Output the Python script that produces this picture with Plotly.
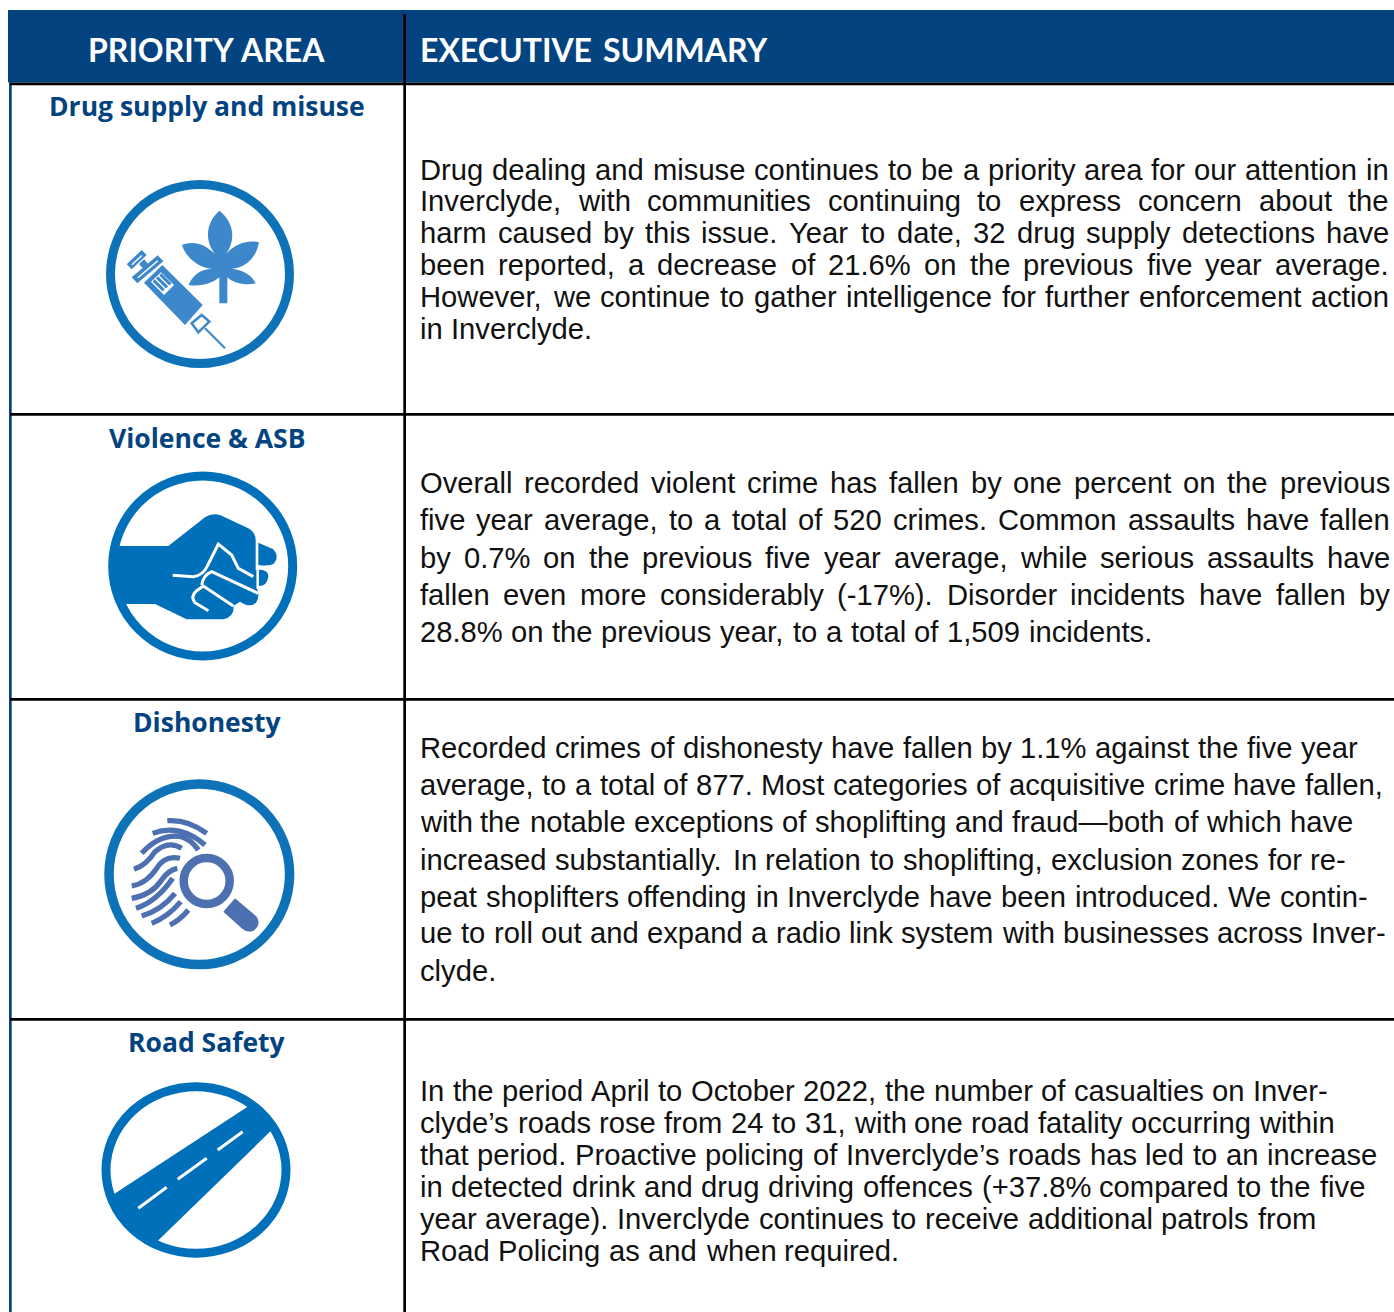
import re
import plotly.graph_objects as go

W, H = 1394, 1312
NAVY = "#03437F"
RING = "#0E72B9"
LEAF = "#3D87CB"
PRINT = "#4C70B0"
BODY_FONT = "Liberation Sans"
HEAD_FONT = "Lato"
AREA_FONT = "Open Sans"

headers = [("PRIORITY", "AREA"), ("EXECUTIVE", "SUMMARY")]
header_spans = [(88, 325), (420, 768)]
areas = ["Drug supply and misuse", "Violence & ASB", "Dishonesty", "Road Safety"]
area_y = [105.5, 437.5, 721.5, 1041.5]
row_rules = [82.5, 413, 698, 1018]

lines_drug = [
    "Drug dealing and misuse continues to be a priority area for our attention in",
    "Inverclyde, with communities continuing to express concern about the",
    "harm caused by this issue. Year to date, 32 drug supply detections have",
    "been reported, a decrease of 21.6% on the previous five year average.",
    "However, we continue to gather intelligence for further enforcement action",
    "in Inverclyde.",
]
ends_drug = [1389, 1389, 1389, 1389, 1389, 592]
y_drug = [170, 201, 233, 265, 297, 329]

lines_violence = [
    "Overall recorded violent crime has fallen by one percent on the previous",
    "five year average, to a total of 520 crimes. Common assaults have fallen",
    "by 0.7% on the previous five year average, while serious assaults have",
    "fallen even more considerably (-17%). Disorder incidents have fallen by",
    "28.8% on the previous year, to a total of 1,509 incidents.",
]
ends_violence = [1390, 1390, 1390, 1390, 1152]
y_violence = [483, 520, 558, 595, 632]

lines_dishonesty = [
    "Recorded crimes of dishonesty have fallen by 1.1% against the five year",
    "average, to a total of 877. Most categories of acquisitive crime have fallen,",
    "with the notable exceptions of shoplifting and fraud\u2014both of which have",
    "increased substantially. In relation to shoplifting, exclusion zones for re-",
    "peat shoplifters offending in Inverclyde have been introduced. We contin-",
    "ue to roll out and expand a radio link system with businesses across Inver-",
    "clyde.",
]
ends_dishonesty = [1358, 1383, 1353, 1346, 1368, 1386, 496]
y_dishonesty = [748, 785, 822, 860, 897, 933, 971]

lines_road = [
    "In the period April to October 2022, the number of casualties on Inver-",
    "clyde\u2019s roads rose from 24 to 31, with one road fatality occurring within",
    "that period. Proactive policing of Inverclyde\u2019s roads has led to an increase",
    "in detected drink and drug driving offences (+37.8% compared to the five",
    "year average). Inverclyde continues to receive additional patrols from",
    "Road Policing as and when required.",
]
ends_road = [1328, 1334, 1377, 1365, 1316, 899]
y_road = [1091, 1123, 1155, 1187, 1219, 1251]

# Liberation Sans / Arial advance widths (1/1000 em)
ADV = {}
for chars, w in [("ilj'", 222), ("ft,./ ", 278), ("r()-", 333), ("cksvxyz", 500),
                 ("abdeghnopqu0123456789+", 556), ("mM", 833), ("w", 722), ("%", 889),
                 ("ABEPSVXY", 667), ("CDHNRU", 722), ("\u2014", 1000), ("\u2019", 222),
                 ("OGQ", 778), ("TF", 611), ("L", 556), ("I", 278), ("W", 944)]:
    for c in chars:
        ADV[c] = w


def width(s, fs):
    return sum(ADV.get(c, 556) for c in s) * fs / 1000


FS = 29.2
LEFT = 420
annotations = []


def note(x, y, text, size, color, font, anchor="left", bold=False):
    annotations.append(dict(
        x=x, y=y, xref="x", yref="y", text=f"<b>{text}</b>" if bold else text,
        showarrow=False, xanchor=anchor, yanchor="middle", borderpad=0, borderwidth=0,
        font=dict(family=font, size=size, color=color)))


def place_paragraph(lines, ends, ys):
    for line, end, y in zip(lines, ends, ys):
        words = line.split(" ")
        total = sum(width(w, FS) for w in words)
        gap = (end - LEFT - total) / max(1, len(words) - 1)
        x = LEFT
        for w in words:
            note(x, y, w, FS, "#111111", BODY_FONT)
            x += width(w, FS) + gap


place_paragraph(lines_drug, ends_drug, y_drug)
place_paragraph(lines_violence, ends_violence, y_violence)
place_paragraph(lines_dishonesty, ends_dishonesty, y_dishonesty)
place_paragraph(lines_road, ends_road, y_road)

for (first, second), (x0, x1) in zip(headers, header_spans):
    note(x0, 49, first, 32, "white", HEAD_FONT, "left", True)
    note(x1, 49, second, 32, "white", HEAD_FONT, "right", True)
for name, y in zip(areas, area_y):
    note(207, y, name, 26.5, NAVY, AREA_FONT, "center", True)

shapes = []


def rect(x0, y0, x1, y1, color):
    shapes.append(dict(type="rect", xref="x", yref="y", x0=x0, y0=y0, x1=x1, y1=y1,
                       fillcolor=color, line=dict(width=0), layer="above"))


def path(d, ox, oy, fill=None, stroke=None, lw=0):
    nums = iter(range(10 ** 6))

    def conv(m):
        v = float(m.group(0))
        return f"{(ox if next(nums) % 2 == 0 else oy) + v / 3:.2f}"

    d2 = re.sub(r"-?\d+\.?\d*", conv, d)
    shapes.append(dict(type="path", xref="x", yref="y", path=d2, layer="above",
                       fillcolor=fill if fill else "rgba(0,0,0,0)",
                       line=dict(color=stroke if stroke else "rgba(0,0,0,0)", width=lw)))


def ring(cx, cy, rx, ry, lw, color):
    shapes.append(dict(type="circle", xref="x", yref="y", x0=cx - rx, x1=cx + rx, y0=cy - ry, y1=cy + ry,
                       fillcolor="rgba(0,0,0,0)", line=dict(color=color, width=lw), layer="above"))


# table frame
rect(8, 10, 1394, 82.5, NAVY)
rect(9, 82.5, 11.7, 1312, NAVY)
rect(403.3, 14, 406, 1312, "#000000")
for y in row_rules:
    rect(10, y, 1394, y + 2.8, "#000000")

# --- icon 1: syringe and leaf
ox, oy = 90, 170
ring(200, 274, 89.5, 89.5, 9, RING)
path("M388 400 L388 322 C370 338 335 352 296 345 C308 315 330 298 365 296 "
     "C330 295 288 265 276 225 C310 212 342 220 375 252 C345 215 345 160 388 122 C430 155 440 205 408 252 "
     "C440 218 475 210 507 217 C500 262 465 295 425 296 C455 298 487 315 497 340 C470 348 430 340 412 322 "
     "L412 400 Z", ox, oy, LEAF)
# plunger cap (hollow), plunger rod, flange (hollow)
path("M110 283 L155 240 L170 255 L125 298 Z", ox, oy, LEAF)
path("M124 283 L154 255 L157 258 L127 286 Z", ox, oy, "white")
path("M147 282 L162 268 L182 290 L167 304 Z", ox, oy, LEAF)
path("M125 322 L203 256 L220 274 L142 340 Z", ox, oy, LEAF)
path("M142 322 L202 271 L205 274 L145 325 Z", ox, oy, "white")
path("M162 338 L217 285 L338 405 L285 465 Z", ox, oy, LEAF)
path("M183 335 L213 307 L252 345 L222 375 Z", ox, oy, "white")
for a, b, c, d in [(191, 331, 221, 361), (201, 322, 231, 352), (211, 313, 241, 343)]:
    path(f"M{a} {b} L{c} {d}", ox, oy, None, LEAF, 3)
path("M305 460 L335 435 L358 455 L325 487 Z", ox, oy, "white", LEAF, 2.5)
path("M345 475 L405 535", ox, oy, None, LEAF, 2.2)

# --- icon 2: fist
ox, oy = 90, 460
ring(202.7, 566, 90, 90, 9, "#0070BA")
FIST = "#0070BA"
path("M62 258 L235 258 L345 172 Q365 158 390 165 L475 205 Q497 218 497 240 L497 330 Q535 325 535 350 "
     "Q530 380 505 378 L500 385 Q512 405 498 428 Q480 445 450 425 L430 438 Q435 470 400 478 L290 478 "
     "L195 432 L100 432 Q70 390 60 320 Z", ox, oy, FIST)
path("M505 248 L550 268 Q570 290 552 310 Q540 320 505 315 Z", ox, oy, FIST)
path("M248 346 L310 350 Q340 346 352 318 L385 252 L425 285 L445 325 L490 350",
     ox, oy, None, "white", 3)
path("M335 375 Q340 345 365 335 L505 400", ox, oy, None, "white", 3)
path("M355 452 L315 428 Q300 410 320 392 L340 378 L430 438", ox, oy, None, "white", 3)
path("M503 320 L503 385", ox, oy, None, "white", 2.5)

# --- icon 3: fingerprint and magnifier
ox, oy = 90, 770
ring(199.3, 874.3, 90.3, 90.3, 9.5, RING)
for d in ["M232 152 Q295 148 350 190",
          "M188 190 Q270 160 345 225",
          "M155 250 Q210 190 275 200 Q305 210 325 240",
          "M132 298 Q170 285 195 245 Q235 210 275 235",
          "M125 348 Q170 340 200 295 Q225 255 270 265",
          "M125 385 Q185 375 215 330 Q235 300 262 295",
          "M138 415 Q200 395 248 325",
          "M155 438 Q215 420 255 370",
          "M185 460 Q235 440 272 395",
          "M240 465 Q270 450 295 420"]:
    path(d, ox, oy, None, PRINT, 5.2)
ring(206.7, 881, 23, 23, 8.5, PRINT)
path("M400 425 L435 385 L500 440 Q515 465 490 482 Q470 490 455 475 Z", ox, oy, PRINT)

# --- icon 4: road
ox, oy = 90, 1070
ROAD = "#0070BA"
ring(196, 1170, 90, 83.2, 9, ROAD)
path("M55 383 L490 99 L525 125 L560 166 L185 530 L130 495 L80 440 Z", ox, oy, ROAD)
for d in ["M145 415 L230 352", "M263 328 L350 265", "M383 240 L458 185"]:
    path(d, ox, oy, None, "white", 3)

fig = go.Figure()
fig.update_layout(
    width=W, height=H, margin=dict(l=0, r=0, t=0, b=0),
    paper_bgcolor="white", plot_bgcolor="white", showlegend=False,
    xaxis=dict(range=[0, W], visible=False, fixedrange=True),
    yaxis=dict(range=[H, 0], visible=False, fixedrange=True),
    shapes=shapes, annotations=annotations,
)
fig.write_html("out.html", config={"displayModeBar": False},
               default_width=f"{W}px", default_height=f"{H}px",
               post_script="document.body.style.margin='0';document.documentElement.style.overflow='hidden';")
